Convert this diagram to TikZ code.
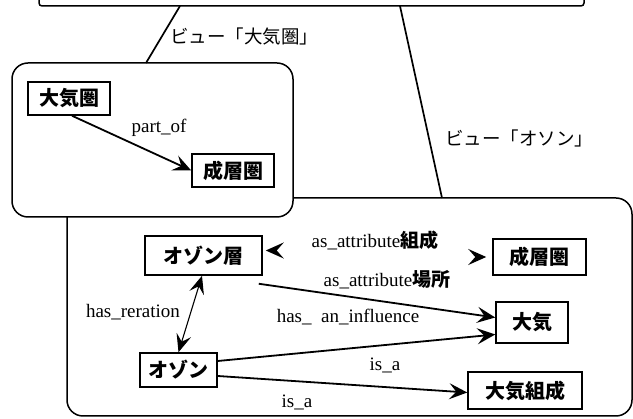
\documentclass[tikz,border=0pt]{standalone}
\usepackage{fontspec}
\setmainfont{Liberation Serif}
\newfontfamily\jp{Noto Sans CJK JP}
\usetikzlibrary{arrows.meta}
\begin{document}
\begin{tikzpicture}[x=1pt,y=-1pt,
  box/.style={draw,line width=1.5pt,inner sep=0pt,font=\jp\bfseries\fontsize{20}{20}\selectfont},
  lab/.style={inner sep=0pt,font=\fontsize{19}{19}\selectfont},
  jlab/.style={inner sep=0pt,font=\jp\fontsize{18.5}{19}\selectfont},
  con/.style={line width=1.7pt},
  arr/.style={line width=1.8pt,-{Stealth[length=18pt,width=16pt,inset=7pt]}},
  grp/.style={draw,line width=1.5pt,rounded corners=16pt,inner sep=0pt}]
\useasboundingbox (0,0) rectangle (633,419);
% top group (only bottom visible)
\node[draw,line width=1.5pt,rounded corners=3pt,minimum width=545pt,minimum height=40pt,inner sep=0pt] (T) at (311.5,-14) {};
\coordinate (t1) at (180,6);
\coordinate (t2) at (400,6);
% bottom group
\node[grp,minimum width=565pt,minimum height=218pt] (Bt) at (349.5,307) {};
% left group
\node[grp,fill=white,minimum width=281pt,minimum height=154pt] (L) at (152.5,140) {};
\coordinate (l1) at (146,63);
\coordinate (b2) at (442,198);
\draw[con] (t1) -- (l1);
\draw[con] (t2) -- (b2);
\node[jlab,anchor=west] (v1) at (170,36) {ビュー「大気圏」};
\node[jlab,anchor=west] (v2) at (445,138) {ビュー「オソン」};
% left view
\node[box,minimum width=82pt,minimum height=33pt] (A) at (69,98.5) {大気圏};
\node[box,minimum width=82pt,minimum height=33pt] (B) at (233,170.5) {成層圏};
\draw[arr] ([xshift=3pt]A.south) -- (B.west);
\node[lab] (pl) at (159,128) {part\_of};
% bottom view
\node[box,minimum width=117pt,minimum height=39pt] (C) at (203.5,255.5) {オゾン層};
\node[box,minimum width=93pt,minimum height=36pt] (D) at (539.5,257) {成層圏};
\node[box,minimum width=72pt,minimum height=41pt] (F) at (532,322.5) {大気};
\node[box,minimum width=77pt,minimum height=34pt] (E) at (178.5,370) {オゾン};
\node[box,minimum width=114pt,minimum height=37pt] (G) at (525,390.5) {大気組成};
% as_attribute tips
\draw[arr] ([shift={(14pt,5pt)}]C.east) -- ([shift={(3pt,5pt)}]C.east);
\draw[arr] ([xshift=-17pt]D.west) -- ([xshift=-6pt]D.west);
\node[lab] (la1) at (375,240) {as\_attribute{\jp\bfseries 組成}};
\node[lab] (la2) at (387,280) {as\_attribute{\jp\bfseries 場所}};
% has_reration
\draw[line width=1.1pt,{Stealth[length=18pt,width=15pt,inset=7pt]}-{Stealth[length=18pt,width=15pt,inset=7pt]}] ([xshift=-1.5pt]C.south) -- (E.north);
\node[lab] (lr) at (133,312) {has\_reration};
% has_an_influence
\draw[arr] ([shift={(-4pt,-8pt)}]C.south east) -- ([yshift=5pt]F.west);
\node[lab] (li) at (348,317) {has\_~ an\_influence};
% is_a
\draw[arr] ([yshift=9pt]E.east) -- ([yshift=-12pt]F.west);
\node[lab] (lia) at (385,365) {is\_a};
\draw[arr] ([yshift=-6pt]E.east) -- ([yshift=-2pt]G.west);
\node[lab] (lib) at (297,402) {is\_a};
\end{tikzpicture}
\end{document}
